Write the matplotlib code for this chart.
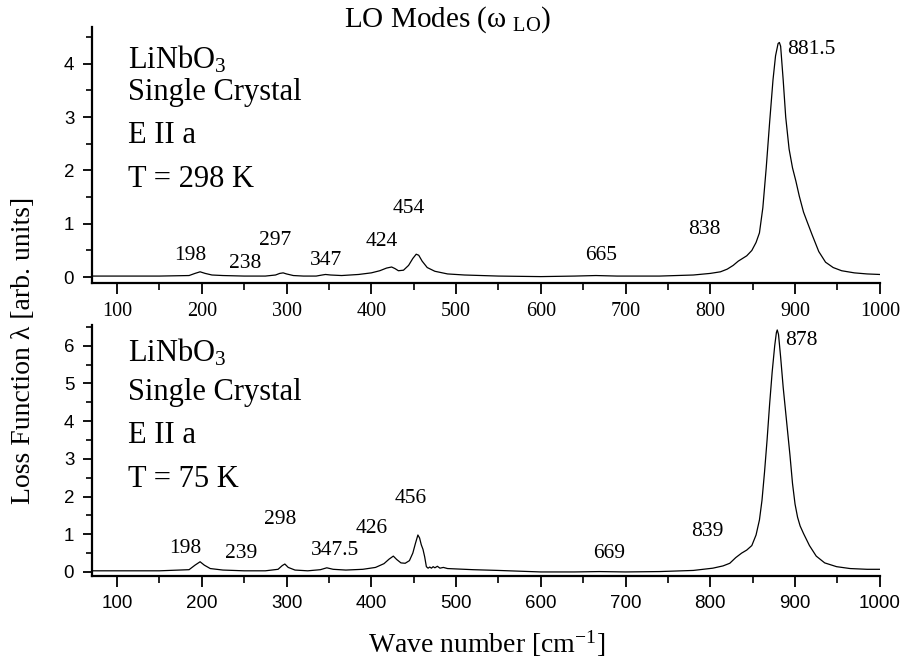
"""LiNbO3 single crystal, E || a: LO loss function at 298 K (top) and 75 K (bottom)."""
import matplotlib
matplotlib.use("Agg")
import matplotlib.pyplot as plt
from matplotlib.ticker import MultipleLocator

SERIF = "Liberation Serif"
SANS = "Liberation Sans"

# --- 298 K spectrum ---
WN_298 = [70, 100, 150, 185, 192, 198, 204, 212, 225, 250, 275, 287, 292, 296, 300,
          308, 320, 335, 342, 346, 352, 365, 385, 400, 410, 418, 424, 428, 432, 438,
          444, 449, 453, 456, 460, 466, 475, 490, 510, 550, 600, 640, 665, 690, 740,
          780, 800, 812, 820, 827, 833, 838, 843, 849, 854, 858, 862, 866, 870, 874,
          877, 880, 881.5, 883, 886, 889, 893, 897, 901, 905, 910, 914, 920, 928, 936,
          945, 955, 970, 985, 1000]
LOSS_298 = [0.02, 0.02, 0.02, 0.03, 0.07, 0.10, 0.07, 0.04, 0.03, 0.02, 0.02, 0.04, 0.07, 0.08, 0.06,
            0.03, 0.02, 0.02, 0.04, 0.05, 0.04, 0.03, 0.05, 0.08, 0.12, 0.17, 0.19, 0.16, 0.12, 0.13,
            0.22, 0.35, 0.43, 0.41, 0.30, 0.18, 0.11, 0.06, 0.04, 0.02, 0.01, 0.02, 0.03, 0.02, 0.02,
            0.04, 0.07, 0.10, 0.15, 0.22, 0.30, 0.35, 0.40, 0.50, 0.65, 0.83, 1.30, 2.05, 2.90, 3.70,
            4.15, 4.38, 4.40, 4.33, 3.70, 3.00, 2.40, 2.05, 1.80, 1.52, 1.22, 1.05, 0.80, 0.48, 0.28,
            0.18, 0.12, 0.08, 0.06, 0.05]
PEAKS_298 = ["198", "238", "297", "347", "424", "454", "665", "838", "881.5"]
INFO_298 = ["LiNbO$_3$", "Single Crystal", "E II a", "T = 298 K"]

# --- 75 K spectrum ---
WN_75 = [70, 100, 150, 185, 192, 198, 203, 210, 225, 250, 275, 290, 295, 298, 302,
         310, 325, 340, 347.5, 355, 370, 390, 405, 415, 421, 426, 430, 435, 440, 445,
         449, 452, 455, 457, 459, 461, 463, 465, 467, 469, 471, 473, 475, 478, 481,
         485, 490, 500, 520, 550, 600, 640, 669, 700, 740, 780, 803, 815, 823, 830,
         837, 843, 849, 854, 858, 861, 864, 867, 870, 873, 876, 878, 879, 880.5, 883,
         886, 890, 894, 897, 900, 903, 906, 910, 917, 925, 935, 949, 965, 985, 1000]
LOSS_75 = [0.03, 0.03, 0.03, 0.06, 0.18, 0.27, 0.18, 0.09, 0.05, 0.03, 0.03, 0.07, 0.17, 0.21, 0.12,
           0.05, 0.03, 0.06, 0.11, 0.07, 0.05, 0.07, 0.12, 0.22, 0.34, 0.42, 0.33, 0.24, 0.23, 0.30,
           0.50, 0.75, 0.98, 0.90, 0.72, 0.60, 0.40, 0.14, 0.10, 0.13, 0.10, 0.14, 0.11, 0.15, 0.10,
           0.12, 0.09, 0.08, 0.06, 0.04, 0.00, 0.00, 0.01, 0.00, 0.01, 0.04, 0.10, 0.16, 0.23, 0.38,
           0.50, 0.58, 0.70, 0.98, 1.38, 1.90, 2.65, 3.50, 4.45, 5.30, 6.00, 6.35, 6.42, 6.30, 5.70,
           4.90, 4.00, 3.10, 2.35, 1.80, 1.45, 1.22, 1.02, 0.70, 0.42, 0.24, 0.14, 0.09, 0.07, 0.07]
PEAKS_75 = ["198", "239", "298", "347.5", "426", "456", "669", "839", "878"]
INFO_75 = ["LiNbO$_3$", "Single Crystal", "E II a", "T = 75 K"]

# label anchors in data coords (wave number, loss)
LABEL_XY_298 = [(186, 0.41), (251, 0.26), (286, 0.68), (347, 0.32), (412, 0.66),
                (444, 1.29), (671, 0.41), (793, 0.89), (919, 4.26)]
LABEL_XY_75 = [(180, 0.63), (247, 0.50), (293, 1.40), (357, 0.58), (400, 1.16),
               (446, 1.95), (681, 0.50), (797, 1.07), (908, 6.14)]
INFO_Y_298 = [3.92, 3.32, 2.51, 1.69]
INFO_Y_75 = [5.57, 4.56, 3.42, 2.25]


def draw_panel(ax, wn, loss, ylim, peaks, label_xy, info, info_y, serif_xticks):
    ax.plot(wn, loss, "-", color="black", linewidth=0.9)
    ax.set_xlim(70, 1000)
    ax.set_ylim(*ylim)

    for side in ("top", "right"):
        ax.spines[side].set_visible(False)
    for side in ("left", "bottom"):
        ax.spines[side].set_linewidth(1.6)

    ax.xaxis.set_major_locator(MultipleLocator(100))
    ax.xaxis.set_minor_locator(MultipleLocator(50))
    ax.yaxis.set_major_locator(MultipleLocator(1))
    ax.yaxis.set_minor_locator(MultipleLocator(0.5))
    ax.tick_params(axis="x", which="major", direction="out", length=8, width=1.3, pad=6)
    ax.tick_params(axis="x", which="minor", direction="out", length=5, width=1.2)
    ax.tick_params(axis="y", which="major", direction="out", length=6.5, width=1.3, pad=6)
    ax.tick_params(axis="y", which="minor", direction="out", length=4.5, width=1.2)

    for lab in ax.get_yticklabels():
        lab.set_fontfamily(SANS)
        lab.set_fontsize(13.5)
    for lab in ax.get_xticklabels():
        if serif_xticks:
            lab.set_fontfamily(SERIF)
            lab.set_fontsize(14.5)
        else:
            lab.set_fontfamily(SANS)
            lab.set_fontsize(13.5)

    for text, (x, y) in zip(peaks, label_xy):
        ax.text(x, y, text, ha="center", va="center", fontsize=15.5, family=SERIF)

    for text, y in zip(info, info_y):
        ax.text(113, y, text, ha="left", va="baseline", fontsize=22, family=SERIF)


def main():
    plt.rcParams["mathtext.fontset"] = "custom"
    plt.rcParams["mathtext.rm"] = SERIF
    plt.rcParams["mathtext.it"] = SERIF + ":italic"
    plt.rcParams["font.family"] = [SERIF, "DejaVu Serif"]

    fig = plt.figure(figsize=(9.07, 6.62), dpi=100)
    ax_top = fig.add_axes([0.101, 0.5725, 0.869, 0.3867])
    ax_bot = fig.add_axes([0.101, 0.130, 0.869, 0.379])

    draw_panel(ax_top, WN_298, LOSS_298, (-0.11, 4.69), PEAKS_298, LABEL_XY_298,
               INFO_298, INFO_Y_298, serif_xticks=True)
    draw_panel(ax_bot, WN_75, LOSS_75, (-0.106, 6.55), PEAKS_75, LABEL_XY_75,
               INFO_75, INFO_Y_75, serif_xticks=False)

    fig.text(0.494, 1 - 27 / 662, r"LO Modes (ω$\ {}_{\mathrm{LO}}$)", ha="center",
             va="baseline", fontsize=21, family=SERIF)
    fig.text(0.536, 1 - 653 / 662, r"Wave number [cm$^{-1}$]", ha="center",
             va="baseline", fontsize=20, family=SERIF)
    fig.text(0.026, 1 - 350 / 662, "Loss Function λ [arb. units]", ha="center",
             va="center", rotation=90, fontsize=20, family=SERIF)

    fig.savefig("out.png", dpi=100)
    plt.close(fig)


if __name__ == "__main__":
    main()
